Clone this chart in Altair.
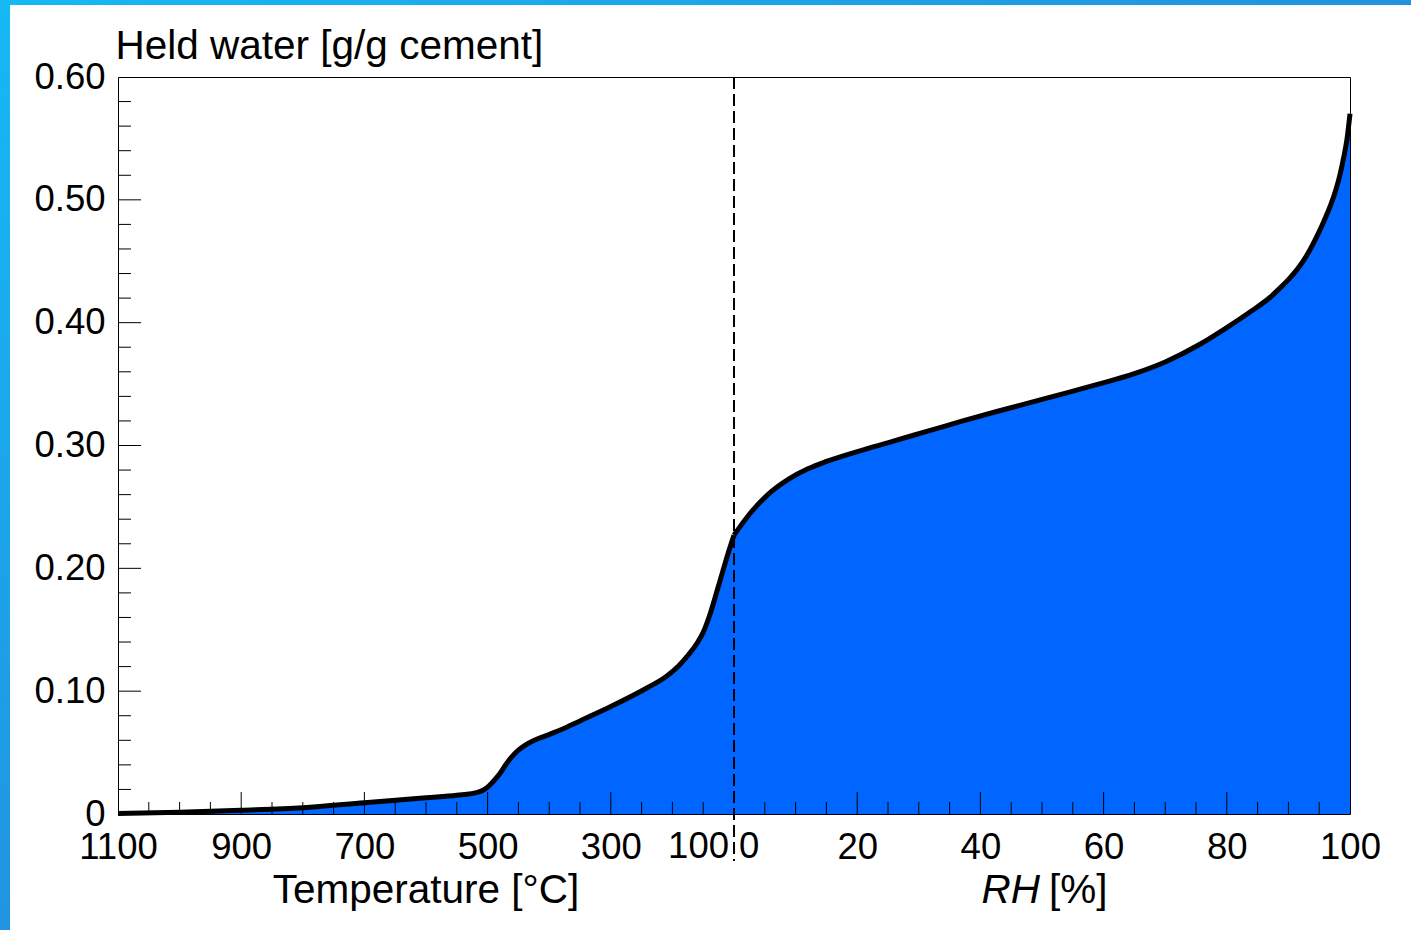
import altair as alt
import pandas as pd

# ---- data ----
# Left branch: temperature (°C) vs held water (g/g cement)
temp_c = [1100, 1000, 900, 800, 700, 600, 550, 515, 505, 498, 490, 480, 470, 460,
          450, 440, 425, 405, 380, 350, 300, 240, 210, 190, 175, 160, 150, 140,
          125, 110, 100]
temp_w = [0.0005, 0.0015, 0.003, 0.005, 0.0092, 0.0133, 0.0152, 0.0178, 0.020,
          0.0228, 0.027, 0.033, 0.0405, 0.047, 0.052, 0.0557, 0.0598, 0.0638,
          0.0688, 0.0758, 0.0875, 0.103, 0.112, 0.1205, 0.129, 0.139, 0.148,
          0.161, 0.186, 0.2115, 0.227]
# Right branch: relative humidity (%) vs held water (g/g cement)
rh_pct = [0, 2.5, 5.5, 9, 12, 15, 21, 26, 32, 37, 42.5, 48.5, 54, 59, 65, 70,
          75.5, 80, 84, 87, 88.6, 90, 91.9, 93.3, 94.6, 95.8, 96.8, 97.7, 98.4,
          99.0, 99.5, 100]
rh_w = [0.227, 0.244, 0.260, 0.273, 0.281, 0.287, 0.2965, 0.3038, 0.3125, 0.3198,
        0.3275, 0.3355, 0.3428, 0.3497, 0.3585, 0.368, 0.382, 0.396, 0.4095,
        0.4205, 0.428, 0.435, 0.4465, 0.4575, 0.470, 0.483, 0.495, 0.508, 0.521,
        0.535, 0.549, 0.570]

# axis ticks (combined axis units: 0..1000 = 1100..100 °C, 1000..2000 = 0..100 %)
x_major = [200, 400, 600, 800, 1200, 1400, 1600, 1800]
x_minor = [50, 100, 150, 250, 300, 350, 450, 500, 550, 650, 700, 750, 850, 900, 950,
           1050, 1100, 1150, 1250, 1300, 1350, 1450, 1500, 1550, 1650, 1700, 1750,
           1850, 1900, 1950]
x_label_vals = [0, 200, 400, 600, 800, 1200, 1400, 1600, 1800, 2000]
y_label_vals = [0, 0.1, 0.2, 0.3, 0.4, 0.5, 0.6]
y_major = [0.1, 0.2, 0.3, 0.4, 0.5]
y_minor = [0.02, 0.04, 0.06, 0.08, 0.12, 0.14, 0.16, 0.18, 0.22, 0.24, 0.26, 0.28,
           0.32, 0.34, 0.36, 0.38, 0.42, 0.44, 0.46, 0.48, 0.52, 0.54, 0.56, 0.58]

FONT = "Liberation Sans"
LFS = 36.5   # tick label size
TFS = 40.5   # title size
W, H = 1232, 737

df_t = pd.DataFrame({"u": [1100 - t for t in temp_c], "w": temp_w, "part": "temperature"})
df_r = pd.DataFrame({"u": [1000 + 10 * r for r in rh_pct], "w": rh_w, "part": "rh"})
curve = pd.concat([df_t, df_r], ignore_index=True)

xs = alt.Scale(domain=[0, 2000], nice=False, zero=False)
ys = alt.Scale(domain=[0, 0.6], nice=False, zero=False)

x_axis = alt.Axis(
    values=x_label_vals,
    labelExpr="datum.value < 1000 ? format(1100 - datum.value, 'd') : format((datum.value - 1000) / 10, 'd')",
    ticks=False, tickSize=0, domain=False, grid=False, title=None,
    labelFont=FONT, labelFontSize=LFS, labelColor="black",
    labelBaseline="alphabetic", labelPadding=44, labelFlush=False, labelOverlap=False,
)
y_axis = alt.Axis(
    values=y_label_vals,
    labelExpr="datum.value == 0 ? '0' : format(datum.value, '.2f')",
    ticks=False, tickSize=0, domain=False, grid=False,
    labelFont=FONT, labelFontSize=LFS, labelColor="black", labelPadding=13,
    labelFlush=False, labelOverlap=False,
    title="Held water [g/g cement]", titleAngle=0, titleAlign="left",
    titleBaseline="alphabetic", titleX=-3, titleY=-19, titleFont=FONT,
    titleFontSize=TFS, titleFontWeight="normal", titleColor="black",
)

base = alt.Chart(curve)
area = base.mark_area(color="#0066ff", interpolate="monotone").encode(
    x=alt.X("u:Q", scale=xs, axis=x_axis),
    y=alt.Y("w:Q", scale=ys, axis=y_axis, stack=None),
    detail="part:N",
)
line = base.mark_line(color="black", strokeWidth=5, interpolate="monotone",
                      strokeCap="butt").encode(
    x="u:Q", y=alt.Y("w:Q", stack=None), detail="part:N"
)

yt_major = alt.Chart(pd.DataFrame({"w": y_major})).mark_rule(color="black", strokeWidth=1).encode(
    y="w:Q", x=alt.value(0), x2=alt.value(23))
yt_minor = alt.Chart(pd.DataFrame({"w": y_minor})).mark_rule(color="black", strokeWidth=1).encode(
    y="w:Q", x=alt.value(0), x2=alt.value(13))
xt_major = alt.Chart(pd.DataFrame({"u": x_major})).mark_rule(color="black", strokeWidth=1).encode(
    x="u:Q", y=alt.value(H), y2=alt.value(H - 22))
xt_minor = alt.Chart(pd.DataFrame({"u": x_minor})).mark_rule(color="black", strokeWidth=1).encode(
    x="u:Q", y=alt.value(H), y2=alt.value(H - 12))

divider = alt.Chart(pd.DataFrame({"u": [1000]})).mark_rule(
    color="black", strokeWidth=2, strokeDash=[12, 5]).encode(
    x="u:Q", y=alt.value(0), y2=alt.value(H + 47))

split = pd.DataFrame({"u": [1000]})
lab100 = alt.Chart(split).mark_text(text="100", align="right", baseline="alphabetic",
                                    dx=-5, font=FONT, fontSize=LFS, color="black").encode(
    x="u:Q", y=alt.value(H + 44))
lab0 = alt.Chart(split).mark_text(text="0", align="left", baseline="alphabetic",
                                  dx=5, font=FONT, fontSize=LFS, color="black").encode(
    x="u:Q", y=alt.value(H + 44))

t_title = alt.Chart(pd.DataFrame({"u": [500]})).mark_text(
    text="Temperature [°C]", align="center", baseline="alphabetic",
    font=FONT, fontSize=TFS, color="black").encode(x="u:Q", y=alt.value(H + 89))
rh_title = alt.Chart(pd.DataFrame({"u": [1500]})).mark_text(
    text="RH", align="right", baseline="alphabetic", dx=-2, fontStyle="italic",
    font=FONT, fontSize=TFS, color="black").encode(x="u:Q", y=alt.value(H + 89))
pct_title = alt.Chart(pd.DataFrame({"u": [1500]})).mark_text(
    text="[%]", align="left", baseline="alphabetic", dx=7,
    font=FONT, fontSize=TFS, color="black").encode(x="u:Q", y=alt.value(H + 89))

# decorative blue frame (top and left strips)
one = pd.DataFrame({"k": [1]})
left_strip = alt.Chart(one).mark_rect(
    color=alt.LinearGradient(gradient="linear", x1=0, y1=0, x2=0, y2=1,
                             stops=[alt.GradientStop(color="#16b9f4", offset=0),
                                    alt.GradientStop(color="#2194e2", offset=1)])
).encode(x=alt.value(-118), x2=alt.value(-108), y=alt.value(-77), y2=alt.value(H + 116))
top_strip = alt.Chart(one).mark_rect(
    color=alt.LinearGradient(gradient="linear", x1=0, y1=0, x2=1, y2=0,
                             stops=[alt.GradientStop(color="#16b9f4", offset=0),
                                    alt.GradientStop(color="#2192e0", offset=1)])
).encode(x=alt.value(-118), x2=alt.value(W + 61), y=alt.value(-77), y2=alt.value(-72))

chart = alt.layer(
    area, xt_major, xt_minor, yt_major, yt_minor, line, divider,
    lab100, lab0, t_title, rh_title, pct_title, left_strip, top_strip,
).properties(
    width=W, height=H,
    autosize=alt.AutoSizeParams(type="none"),
    padding={"left": 118, "top": 77, "right": 61, "bottom": 116},
    background="white",
).configure_view(stroke="black", strokeWidth=1)

chart.save("out.html", embed_options={"renderer": "svg", "actions": False})
